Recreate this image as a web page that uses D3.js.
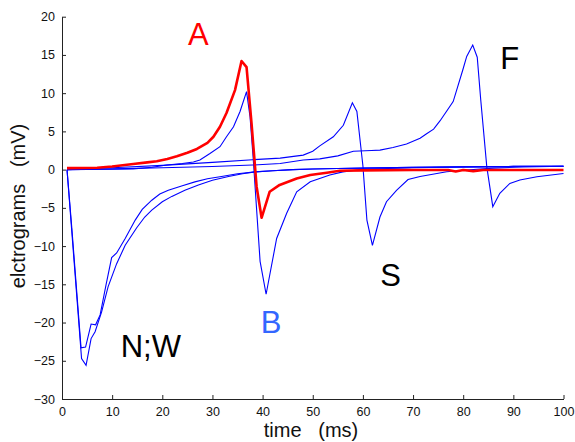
<!DOCTYPE html>
<html>
  <head>
    <meta charset="utf-8">
    <script src="https://d3js.org/d3.v7.min.js"></script>
    <style>
      body { margin: 0; background: #fff; }
      svg { font-family: "Liberation Sans", Arial, sans-serif; }
    </style>
  </head>
  <body>
    <div id="container"></div>
    <script>

      // DATA: [time (ms), electrogram (mV)]
      const seriesN = [[1,0],[2,-8],[3,-16.5],[3.8,-23.3],[4.7,-23.2],[5.8,-20.2],[6.7,-20.3],[7.6,-19],[8.8,-15],[9.9,-11.5],[10.9,-10.9],[12.6,-9],[14.6,-6.6],[16,-5.2],[17.9,-4],[19.5,-3.2],[21.2,-2.7],[24,-2.1],[26.5,-1.6],[29,-1.2],[31.8,-0.9],[35,-0.55],[38.5,-0.3],[42,-0.15],[46,0],[50,0.08],[55,0.15],[60,0.2],[70,0.3],[80,0.36],[90,0.42],[100,0.45]];
      const seriesW = [[1,0],[2,-8.5],[3,-17],[3.9,-24.7],[4.8,-25.6],[5.8,-22.1],[6.6,-21.2],[7.9,-18.6],[9.2,-15.3],[10.9,-12.3],[12.6,-9.9],[14.9,-7.6],[16.5,-6.2],[17.9,-5.3],[20,-4.2],[21.9,-3.5],[24.5,-2.7],[27.2,-2],[30,-1.4],[33.2,-0.9],[36,-0.55],[38.5,-0.3],[42,-0.15],[46,0],[50,0.08],[55,0.15],[60,0.2],[70,0.3],[80,0.36],[90,0.42],[100,0.45]];
      const seriesA = [[1,0.2],[7,0.25],[10,0.4],[14.2,0.73],[17,0.95],[18.9,1.1],[21,1.4],[22.9,1.75],[25,2.2],[26.9,2.7],[29,3.5],[30.2,4.3],[31.5,5.6],[32.8,7.4],[34.5,10.4],[35.8,14.2],[36.8,13.4],[37.8,6],[38.8,-2.2],[39.8,-6.3],[41.4,-2.9],[43.4,-2],[46.8,-1.15],[49.5,-0.7],[52.8,-0.4],[55.4,-0.15],[60,-0.1],[70,-0.05],[77,-0.05],[78.5,-0.25],[80,-0.05],[82,-0.2],[84,-0.05],[100,-0.05]];
      const seriesB = [[1,0],[5,0.02],[10,0.05],[14.2,0.1],[18,0.3],[20.9,0.6],[24,0.8],[26.2,1],[27.5,1.25],[29.5,2.1],[31.5,3],[32.8,4.3],[34.2,5.6],[35.5,7.6],[36.8,10.2],[37.5,6.9],[38.1,1.7],[39.5,-12],[40.7,-16.3],[42.8,-9],[44.8,-5.7],[46.8,-2.9],[49.5,-1.6],[53.4,-0.7],[56,-0.3],[60,0.05],[70,0.25],[80,0.35],[90,0.4],[100,0.45]];
      const seriesS = [[1,0],[10,0.25],[20,0.55],[30,0.95],[38,1.3],[43.5,1.5],[48.1,1.9],[50,2.4],[51.4,3.1],[54.1,4.3],[56.1,5.8],[57.9,8.75],[58.8,7.6],[60,0.5],[60.8,-6.6],[61.9,-9.9],[63.4,-6.2],[64.7,-4.2],[66.7,-2.7],[69,-1.3],[71.4,-0.9],[76.7,-0.27],[80.7,-0.05],[86,0.2],[92,0.35],[100,0.45]];
      const seriesF = [[1,0],[10,0.1],[20,0.25],[30,0.4],[38,0.6],[43.5,0.8],[48.1,1.25],[51.4,1.4],[55,1.8],[58.1,2.4],[61.7,2.5],[63.4,2.55],[66,2.9],[68.7,3.35],[71.4,4.1],[72.7,4.7],[74.1,5.3],[75.4,6.4],[78,8.9],[79.9,13],[80.7,14.8],[81.9,16.3],[82.8,14.7],[83.5,9.1],[84.7,0.4],[85.9,-4.85],[87.3,-3.1],[89.3,-1.8],[91.3,-1.36],[94.7,-0.93],[100,-0.5]];

      const blueSeries = [seriesN, seriesW, seriesB, seriesS, seriesF];

      const xTicks = [0, 10, 20, 30, 40, 50, 60, 70, 80, 90, 100];
      const yTicks = [-30, -25, -20, -15, -10, -5, 0, 5, 10, 15, 20];

      // curve labels: [text, time, mV, colour]
      const labels = [["A", 27.2, 16.3, "#ff0000"], ["B", 41.7, -21.4, "#3366ff"], ["N;W", 17.7, -24.5, "#000"], ["S", 65.5, -15.2, "#000"], ["F", 89.3, 13.2, "#000"]];

      // SET DIMENSIONS
      const width = 575, height = 442;
      const x = d3.scaleLinear().domain([0, 100]).range([62, 563.5]);
      const y = d3.scaleLinear().domain([-30, 20]).range([399, 16.7]);

      const svg = d3.select("#container")
        .append("svg")
        .attr("width", width)
        .attr("height", height);

      // AXES (ticks point inward)
      const xAxis = svg.append("g")
        .attr("transform", "translate(0," + y(-30) + ")")
        .call(d3.axisBottom(x).tickValues(xTicks).tickSizeInner(-4).tickSizeOuter(0).tickPadding(8));
      const yAxis = svg.append("g")
        .attr("transform", "translate(" + x(0) + ",0)")
        .call(d3.axisLeft(y).tickValues(yTicks).tickSizeInner(-4).tickSizeOuter(0).tickPadding(7));

      [xAxis, yAxis].forEach(a => {
        a.select(".domain").attr("stroke", "#222");
        a.selectAll(".tick line").attr("stroke", "#222");
        a.selectAll("text").attr("fill", "#111").attr("font-size", 12.5)
          .attr("font-family", "Liberation Sans, Arial, sans-serif");
      });

      // LINES
      const line = d3.line()
        .x(d => x(d[0]))
        .y(d => y(d[1]));

      svg.selectAll(".blue")
        .data(blueSeries)
        .enter()
        .append("path")
        .attr("class", "blue")
        .attr("d", line)
        .attr("fill", "none")
        .attr("stroke", "#0000ff")
        .attr("stroke-width", 1.1);

      svg.append("path")
        .datum(seriesA)
        .attr("d", line)
        .attr("fill", "none")
        .attr("stroke", "#ff0000")
        .attr("stroke-width", 2.6)
        .attr("stroke-linejoin", "round");

      // LABELS
      svg.selectAll(".lbl")
        .data(labels)
        .enter()
        .append("text")
        .attr("class", "lbl")
        .attr("x", d => x(d[1]))
        .attr("y", d => y(d[2]))
        .attr("text-anchor", "middle")
        .attr("font-size", 31)
        .attr("fill", d => d[3])
        .text(d => d[0]);

      // AXIS TITLES
      svg.append("text")
        .attr("x", 311)
        .attr("y", 437)
        .attr("text-anchor", "middle")
        .attr("font-size", 20)
        .attr("fill", "#111")
        .attr("xml:space", "preserve")
        .text("time   (ms)");

      svg.append("text")
        .attr("transform", "translate(25,206) rotate(-90)")
        .attr("text-anchor", "middle")
        .attr("font-size", 20)
        .attr("fill", "#111")
        .attr("xml:space", "preserve")
        .text("elctrograms   (mV)");

    </script>
  </body>
</html>
